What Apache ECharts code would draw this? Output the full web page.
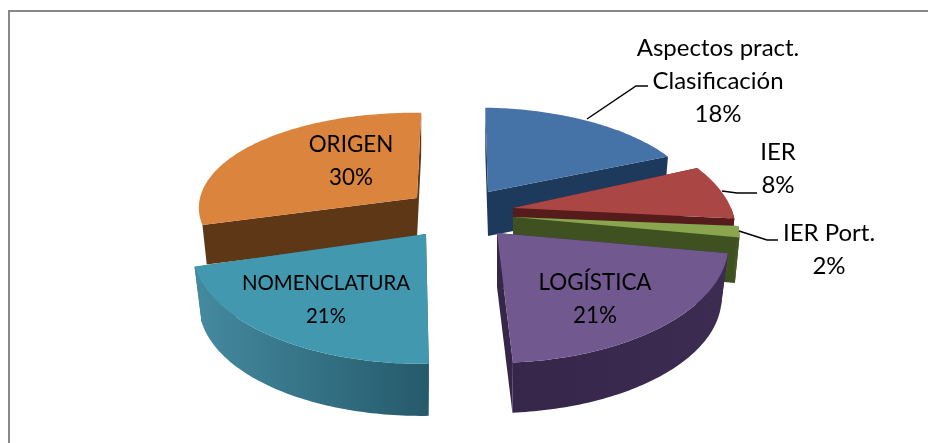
<!DOCTYPE html>
<html>
<head>
<meta charset="utf-8">
<style>
  html, body { margin: 0; padding: 0; background: #fff; }
  #chart { width: 928px; height: 443px; }
</style>
<script src="https://cdn.jsdelivr.net/npm/echarts@6/dist/echarts.min.js"></script>
</head>
<body>
<div id="chart"></div>
<script>
// drawn back to front, so ORIGEN comes first and the pie starts at its edge
const categories = ['ORIGEN', 'Aspectos pract.\nClasificación', 'IER', 'IER Port.', 'LOGÍSTICA', 'NOMENCLATURA']
const shares = [30, 18, 8, 2, 21, 21]

const START_ANGLE = -106
const PERSPECTIVE = 0.114
const FONT = 'Lato, "Open Sans", sans-serif'

// 3D look of each exploded slice: apex, radii, skew, thickness, narrowing of the underside
const slices = [
  { cx: 417, cy: 198, rx: 217, ry: 95, lean: 0.03, shear: 0, depth: 40, under: 0.98 },
  { cx: 488, cy: 192, rx: 209, ry: 94, lean: 0.11, shear: 0, depth: 44, under: 0.98 },
  { cx: 513, cy: 208, rx: 218, ry: 106, lean: 0.185, shear: 0, depth: 45, under: 0.98 },
  { cx: 513, cy: 217, rx: 222, ry: 90, lean: 0.21, shear: 0, depth: 46, under: 0.98 },
  { cx: 497, cy: 233, rx: 229, ry: 115, lean: 0.067, shear: -0.026, depth: 54, under: 0.97 },
  { cx: 426, cy: 234, rx: 232, ry: 115, lean: -0.035, shear: 0, depth: 56, under: 0.97 },
]

const topColors = ['#DB843D', '#4572A7', '#AA4643', '#89A54E', '#71588F', '#4198AF']
const faceColors = ['#5E3717', '#1D3A5C', '#561C1B', '#3F5120', '#35264A', '#2B6678']
const sideColors = [
  ['#6B3F1B', '#5E3717'],
  ['#1D3A5C', '#1D3A5C'],
  ['#561C1B', '#561C1B'],
  ['#4A6026', '#3F5120'],
  ['#35264A', '#3D2C52'],
  ['#458AA0', '#255A6B'],
]

// label centre and leader line for each slice
const labelAt = [[351, 161], [718, 81], [778, 169], [829, 250], [595, 299], [326, 300]]
const labelSize = [22.4, 24, 24, 24, 22.4, 20.4]
const leaders = [
  null,
  [[587, 119], [636, 86], [648, 86]],
  [[722, 191], [737, 193], [757, 193]],
  [[739, 231], [767, 240], [778, 240]],
  null,
  null,
]

const total = shares.reduce((a, b) => a + b, 0)

function angleOf(index) {
  const before = shares.slice(0, index).reduce((a, b) => a + b, 0)
  return START_ANGLE + (before / total) * 360
}

// point on a slice's rim, relative to its apex, clockwise from the top
function rim(s, deg) {
  const t = (deg * Math.PI) / 180
  const w = 1 + PERSPECTIVE * Math.cos(t)
  const px = (s.rx * Math.sin(t)) / w
  const py = (-s.ry * Math.cos(t)) / w
  return [px + s.lean * py, py + s.shear * px]
}

function onTop(s, p) {
  return [s.cx + p[0], s.cy + p[1]]
}

function onBottom(s, p) {
  return [s.cx + p[0] * s.under, s.cy + s.depth + p[1] * s.under]
}

function arc(from, to) {
  const pts = []
  const steps = Math.max(2, Math.ceil(to - from))
  for (let i = 0; i <= steps; i++) pts.push(from + ((to - from) * i) / steps)
  return pts
}

function renderItem(params, api) {
  const i = params.dataIndex
  const s = slices[i]
  const from = angleOf(i)
  const to = from + (api.value(0) / total) * 360
  const children = []

  // cut faces
  ;[from, to].forEach((deg) => {
    const p = rim(s, deg)
    children.push({
      type: 'polygon',
      shape: { points: [[s.cx, s.cy], onTop(s, p), onBottom(s, p), [s.cx, s.cy + s.depth]] },
      style: { fill: faceColors[i] },
    })
  })

  // outer wall, only the part that faces the viewer
  const a = Math.max(from, 90)
  const b = Math.min(to, 270)
  if (b > a) {
    const rimPts = arc(a, b).map((d) => rim(s, d))
    children.push({
      type: 'polygon',
      shape: { points: rimPts.map((p) => onTop(s, p)).concat(rimPts.slice().reverse().map((p) => onBottom(s, p))) },
      style: {
        fill: new echarts.graphic.LinearGradient(1, 0, 0, 0, [
          { offset: 0, color: sideColors[i][1] },
          { offset: 1, color: sideColors[i][0] },
        ]),
      },
    })
  }

  // top
  children.push({
    type: 'polygon',
    shape: { points: [[s.cx, s.cy]].concat(arc(from, to).map((d) => onTop(s, rim(s, d)))) },
    style: { fill: topColors[i] },
  })

  if (leaders[i]) {
    children.push({
      type: 'polyline',
      z2: 20,
      shape: { points: leaders[i] },
      style: { stroke: '#000', lineWidth: 1.5, fill: 'none' },
    })
  }

  children.push({
    type: 'text',
    z2: 30,
    style: {
      text: categories[i] + '\n' + api.value(0) + '%',
      x: labelAt[i][0],
      y: labelAt[i][1],
      fill: '#000',
      fontFamily: FONT,
      fontSize: labelSize[i],
      lineHeight: 33,
      align: 'center',
      verticalAlign: 'middle',
    },
  })

  return { type: 'group', children }
}

const chart = echarts.init(document.getElementById('chart'), null, { renderer: 'canvas' })
chart.setOption({
  backgroundColor: '#fff',
  animation: false,
  // the frame only shows on the top and left
  graphic: [
    {
      type: 'polyline',
      shape: { points: [[9, 443], [9, 11], [928, 11]] },
      style: { stroke: '#888', lineWidth: 2, fill: 'none' },
      z: -1,
    },
  ],
  series: [
    {
      type: 'custom',
      coordinateSystem: 'none',
      data: shares.map((v, i) => ({ name: categories[i], value: [v] })),
      renderItem,
    },
  ],
})
</script>
</body>
</html>
